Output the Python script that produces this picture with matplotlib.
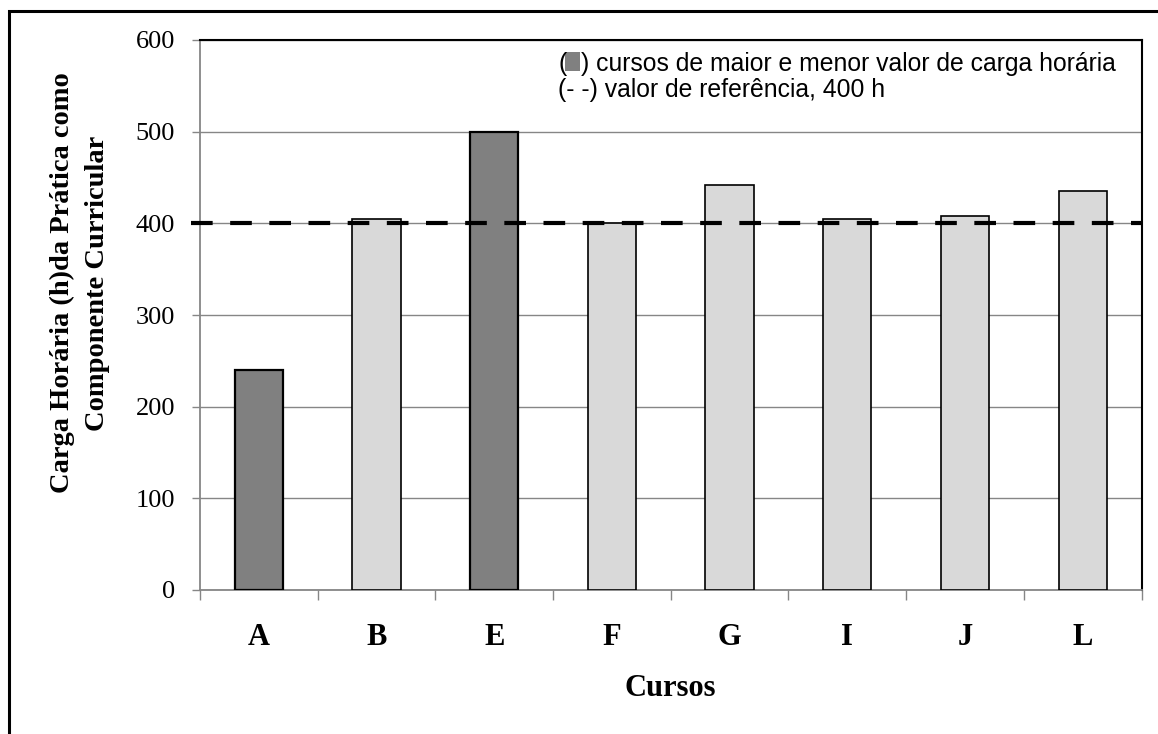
import matplotlib
matplotlib.use("Agg")
import matplotlib.pyplot as plt
from matplotlib.patches import Rectangle
import numpy as np

categories = ["A", "B", "E", "F", "G", "I", "J", "L"]
values = [240, 405, 500, 400, 442, 405, 408, 435]
highlight = [True, False, True, False, False, False, False, False]
reference_value = 400
y_ticks = [0, 100, 200, 300, 400, 500, 600]

W, H = 1158, 734
DPI = 100
fig = plt.figure(figsize=(W / DPI, H / DPI), dpi=DPI)
fig.patch.set_facecolor("white")

L, R, T, B = 200, 1141.5, 40, 590
ax = fig.add_axes([L / W, 1 - B / H, (R - L) / W, (B - T) / H])

serif = "Liberation Serif"
sans = "Liberation Sans"

dark, light, grid = "#808080", "#D9D9D9", "#868686"
x = np.arange(len(categories))
colors = [dark if h else light for h in highlight]
edge_w = [1.6 if h else 1.2 for h in highlight]
ax.bar(x, values, width=0.41, color=colors, edgecolor="black", linewidth=edge_w, zorder=3)

ax.set_xlim(-0.5, len(categories) - 0.5)
ax.set_ylim(0, 600)
ax.set_yticks(y_ticks)
ax.set_yticklabels([str(v) for v in y_ticks], fontfamily=serif, fontsize=19)
ax.yaxis.grid(True, color=grid, linewidth=1.0, zorder=0)
ax.set_axisbelow(True)

ax.set_xticks(x)
ax.set_xticklabels(categories, fontfamily=serif, fontsize=22, fontweight="bold")
ax.set_xticks(np.arange(-0.5, len(categories)), minor=True)
ax.tick_params(axis="x", which="major", length=0, pad=24)
ax.tick_params(axis="x", which="minor", length=7, width=1.0, color=grid, direction="out")
ax.tick_params(axis="y", which="major", length=6, width=1.0, color=grid, direction="out", pad=12)

for s in ["left", "bottom"]:
    ax.spines[s].set_color(grid)
    ax.spines[s].set_linewidth(1.3)
for s in ["top", "right"]:
    ax.spines[s].set_color("black")
    ax.spines[s].set_linewidth(1.5)

ax.plot([-0.5 - 0.075, len(categories) - 0.5], [reference_value, reference_value],
        color="black", linewidth=3.0, dashes=(5.2, 4.2), zorder=5, clip_on=False,
        solid_capstyle="butt", dash_capstyle="butt")

ax.set_xlabel("Cursos", fontfamily=serif, fontsize=22, fontweight="bold", va="center")
ax.xaxis.set_label_coords(0.5, -(688 - B) / (B - T))
ax.set_ylabel("Carga Horária (h)da Prática como\nComponente Curricular", fontfamily=serif,
              fontsize=20.5, fontweight="bold", va="center", ha="center", linespacing=1.5)
ax.yaxis.set_label_coords(-(L - 80) / (R - L), (B - 283) / (B - T))

# legend-like annotation
fs = 17.8
x0 = 558
y1, y2 = 71, 97
fig.text(x0 / W, 1 - y1 / H, "(", fontfamily=sans, fontsize=fs, va="baseline", ha="left")
fig.add_artist(Rectangle(((x0 + 7) / W, 1 - y1 / H), 15 / W, 19 / H, transform=fig.transFigure,
                         facecolor=dark, edgecolor="none"))
fig.text((x0 + 23) / W, 1 - y1 / H, ") cursos de maior e menor valor de carga horária",
         fontfamily=sans, fontsize=fs, va="baseline", ha="left")
fig.text(x0 / W, 1 - y2 / H, "(- -) valor de referência, 400 h",
         fontfamily=sans, fontsize=fs, va="baseline", ha="left")

# outer chart frame
fig.add_artist(Rectangle((8.5 / W, -0.2), 1.5, 1.2 - 10.5 / H, transform=fig.transFigure,
                         fill=False, edgecolor="black", linewidth=2.2))

fig.savefig("out.png", dpi=DPI)
